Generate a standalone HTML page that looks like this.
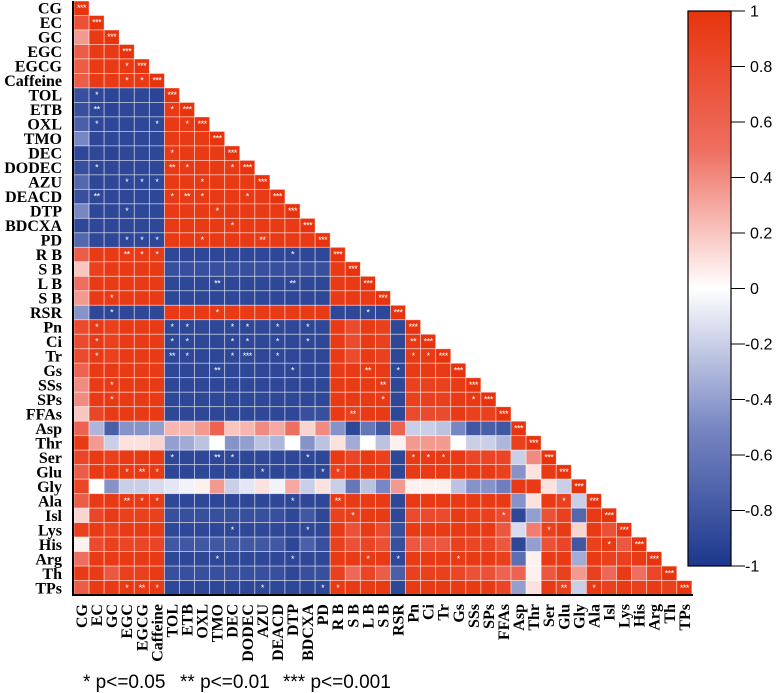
<!DOCTYPE html>
<html><head><meta charset="utf-8"><style>
html,body{margin:0;padding:0;background:#fff;}
svg{display:block;}
</style></head><body>
<svg id="chart" width="777" height="693" viewBox="0 0 777 693" xmlns="http://www.w3.org/2000/svg">
<defs>
<linearGradient id="cbar" x1="0" y1="0" x2="0" y2="1">
<stop offset="0" stop-color="rgb(232,52,14)"/>
<stop offset="0.25" stop-color="rgb(238,110,96)"/>
<stop offset="0.5" stop-color="rgb(255,255,255)"/>
<stop offset="0.75" stop-color="rgb(120,135,195)"/>
<stop offset="1" stop-color="rgb(28,55,140)"/>
</linearGradient>
</defs>
<g id="cells"></g>
<g id="stars"></g>
<g id="rowlabels"></g>
<g id="collabels"></g>
<line x1="73" y1="1" x2="73" y2="596" stroke="#000" stroke-width="2"/>
<line x1="72" y1="595" x2="693" y2="595" stroke="#000" stroke-width="2"/>
<g id="colorbar">
<rect x="688" y="11" width="43" height="555" fill="url(#cbar)" stroke="#000" stroke-width="1.2"/>
</g>
<g font-family="Liberation Sans, sans-serif" font-size="19" fill="#000">
<text x="83" y="688">* p&lt;=0.05</text>
<text x="180" y="688">** p&lt;=0.01</text>
<text x="283" y="688">*** p&lt;=0.001</text>
</g>
</svg>
<script>
const labels = ["CG","EC","GC","EGC","EGCG","Caffeine","TOL","ETB","OXL","TMO","DEC","DODEC","AZU","DEACD","DTP","BDCXA","PD","R B","S B","L B","S B","RSR","Pn","Ci","Tr","Gs","SSs","SPs","FFAs","Asp","Thr","Ser","Glu","Gly","Ala","Isl","Lys","His","Arg","Th","TPs"];
const colorbarTicks = [1,0.8,0.6,0.4,0.2,0,-0.2,-0.4,-0.6,-0.8,-1];
const colorbarTickLabels = ["1","0.8","0.6","0.4","0.2","0","-0.2","-0.4","-0.6","-0.8","-1"];
const corr = [
[1],
[.75,1],
[.35,.95,1],
[.65,.95,.95,1],
[.65,.95,.95,.95,1],
[.65,.95,.95,.95,.95,1],
[-.85,-.9,-.92,-.9,-.9,-.92,1],
[-.85,-.9,-.92,-.9,-.9,-.92,.95,1],
[-.75,-.9,-.9,-.9,-.9,-.9,.95,.95,1],
[-.5,-.9,-.9,-.9,-.9,-.9,.95,.95,.95,1],
[-.9,-.9,-.92,-.9,-.9,-.9,.95,.95,.95,.95,1],
[-.85,-.9,-.9,-.9,-.9,-.9,.95,.95,.95,.95,.95,1],
[-.7,-.9,-.9,-.9,-.9,-.9,.95,.95,.95,.95,.95,.95,1],
[-.85,-.9,-.9,-.9,-.9,-.9,.95,.95,.95,.95,.95,.95,.95,1],
[-.5,-.9,-.9,-.9,-.9,-.9,.95,.95,.95,.95,.95,.95,.95,.95,1],
[-.9,-.9,-.9,-.9,-.9,-.9,.95,.95,.95,.95,.95,.95,.95,.95,.95,1],
[-.7,-.9,-.9,-.9,-.9,-.9,.95,.95,.95,.95,.95,.95,.95,.95,.95,.95,1],
[.65,.95,.95,.95,.95,.95,-.9,-.9,-.9,-.9,-.9,-.9,-.9,-.9,-.9,-.9,-.9,1],
[.2,.9,.95,.95,.95,.95,-.85,-.85,-.85,-.85,-.85,-.85,-.85,-.85,-.85,-.85,-.85,.95,1],
[.5,.95,.95,.95,.95,.95,-.9,-.9,-.9,-.9,-.9,-.9,-.9,-.9,-.9,-.9,-.9,.95,.95,1],
[.35,.95,.95,.95,.95,.95,-.9,-.9,-.9,-.9,-.9,-.9,-.9,-.9,-.9,-.9,-.9,.95,.95,.95,1],
[-.45,-.9,-.9,-.9,-.9,-.9,.95,.95,.95,.95,.95,.95,.95,.95,.95,.95,.95,-.9,-.9,-.9,-.9,1],
[.8,.95,.9,.95,.95,.95,-.9,-.9,-.9,-.9,-.9,-.9,-.9,-.9,-.9,-.9,-.9,.95,.8,.95,.9,-.9,1],
[.8,.95,.9,.95,.95,.95,-.9,-.9,-.9,-.9,-.9,-.9,-.9,-.9,-.9,-.9,-.9,.95,.8,.95,.9,-.9,.95,1],
[.8,.95,.9,.95,.95,.95,-.9,-.9,-.9,-.9,-.9,-.9,-.9,-.9,-.9,-.9,-.9,.95,.8,.95,.9,-.9,.95,.95,1],
[.6,.95,.95,.95,.95,.95,-.9,-.9,-.9,-.9,-.9,-.9,-.9,-.9,-.9,-.9,-.9,.95,.95,.95,.95,-.9,.95,.95,.95,1],
[.4,.95,.95,.95,.95,.95,-.9,-.9,-.9,-.9,-.9,-.9,-.9,-.9,-.9,-.9,-.9,.95,.95,.95,.95,-.9,.9,.9,.9,.95,1],
[.4,.95,.95,.95,.95,.95,-.9,-.9,-.9,-.9,-.9,-.9,-.9,-.9,-.9,-.9,-.9,.95,.95,.95,.95,-.9,.9,.9,.9,.95,.95,1],
[.2,.85,.95,.95,.95,.95,-.9,-.9,-.9,-.9,-.9,-.9,-.9,-.9,-.9,-.85,-.85,.95,.9,.95,.95,-.9,.8,.8,.8,.95,.9,.9,1],
[.6,-.3,-.75,-.45,-.45,-.4,.25,.25,.35,.6,.2,.25,.4,.3,.5,.15,.4,-.45,-.9,-.6,-.8,.6,-.2,-.2,-.25,-.5,-.8,-.75,-.8,1],
[.95,.35,-.2,.1,.1,.15,-.4,-.35,-.25,0,-.45,-.4,-.25,-.3,0,-.45,-.25,.1,-.35,0,-.25,.05,.35,.35,.35,0,-.2,-.2,-.3,.9,1],
[.85,.95,.9,.95,.95,.95,-.9,-.9,-.9,-.9,-.9,-.9,-.9,-.9,-.9,-.9,-.9,.95,.85,.95,.9,-.9,.95,.95,.95,.95,.85,.85,.85,-.2,.4,1],
[.65,.95,.95,.95,.95,.95,-.9,-.9,-.9,-.9,-.9,-.9,-.9,-.9,-.9,-.9,-.9,.9,.95,.95,.95,-.9,.95,.95,.95,.95,.95,.95,.9,-.45,.1,.95,1],
[.85,0,-.45,-.2,-.2,-.15,-.1,-.05,.05,.35,-.2,-.1,.1,-.05,.3,-.2,.1,-.2,-.6,-.25,-.5,.35,.05,.05,.05,-.25,-.45,-.45,-.55,.95,.95,.1,-.2,1],
[.65,.95,.95,.95,.95,.95,-.9,-.9,-.9,-.9,-.9,-.9,-.9,-.9,-.9,-.9,-.9,.95,.95,.95,.95,-.9,.95,.95,.95,.95,.95,.95,.95,-.45,.1,.95,.9,-.2,1],
[.15,.85,.95,.9,.9,.9,-.85,-.85,-.85,-.85,-.85,-.85,-.85,-.85,-.9,-.8,-.9,.9,.9,.95,.95,-.9,.8,.8,.8,.95,.9,.9,.8,-.9,-.4,.75,.9,-.7,.95,1],
[.9,.95,.9,.95,.95,.95,-.9,-.9,-.9,-.9,-.9,-.9,-.9,-.9,-.9,-.9,-.9,.95,.75,.95,.8,-.85,.95,.95,.95,.95,.95,.95,.7,-.15,.45,.9,.95,.15,.95,.75,1],
[.05,.8,.9,.85,.85,.85,-.8,-.8,-.8,-.8,-.8,-.8,-.8,-.8,-.9,-.75,-.85,.9,.75,.85,.75,-.85,.7,.7,.7,.9,.85,.85,.7,-.9,-.4,.75,.85,-.8,.9,.95,.7,1],
[.5,.95,.95,.95,.95,.95,-.9,-.9,-.9,-.9,-.9,-.9,-.9,-.9,-.9,-.9,-.9,.95,.95,.95,.95,-.9,.95,.95,.95,.95,.95,.95,.9,-.65,.05,.95,.95,-.35,.95,.9,.9,.95,1],
[.95,.95,.7,.9,.9,.95,-.85,-.85,-.85,-.85,-.85,-.85,-.85,-.85,-.9,-.85,-.85,.9,.55,.85,.65,-.75,.9,.9,.9,.85,.75,.75,.6,.6,.05,.7,.9,.35,.9,.55,.95,.5,.85,1],
[.65,.95,.95,.95,.95,.95,-.9,-.9,-.9,-.9,-.9,-.9,-.9,-.9,-.9,-.9,-.9,.95,.95,.95,.95,-.9,.95,.95,.95,.95,.95,.95,.85,-.4,.1,.95,.9,-.2,.95,.9,.95,.9,.95,.9,1]
];
const sigRows = [4,5,5,6,7,8,8,11,12,12,12,13,14,16,16,16,7,8,10,11,11,11,12,13,13,13,13,14,15,16,16,17,17,17,17,19,19,20,21,21,21,22,22,22,22,22,22,22,23,23,23,23,23,23,23,23,24,24,24,24,24,24,24,24,25,25,25,25,26,26,27,27,27,28,31,31,31,31,31,31,31,32,32,32,32,32,32,34,34,34,34,34,34,35,35,36,36,36,37,38,38,38,38,38,40,40,40,40,40,40,40,40];
const sigCols = [3,3,4,1,1,1,5,1,3,4,5,1,3,3,4,5,6,7,6,6,7,10,8,6,7,8,11,9,10,8,12,3,4,5,14,9,14,2,2,9,19,1,6,7,10,11,13,15,1,6,7,10,11,13,15,22,1,6,7,10,11,13,22,23,9,14,19,21,2,20,2,20,26,18,6,9,10,15,22,23,24,3,4,5,12,16,17,3,4,5,14,17,32,18,28,10,15,31,35,9,14,19,21,25,3,4,5,12,16,17,32,34];
const sigLevels = [1,1,1,1,2,1,1,1,1,1,1,2,1,1,1,1,1,1,1,2,1,1,1,1,2,1,1,1,1,1,2,2,1,1,1,2,2,1,1,1,1,1,1,1,1,1,1,1,1,1,1,1,1,1,1,2,1,2,1,1,3,1,1,1,2,1,2,1,1,2,1,1,1,2,1,2,1,1,1,1,1,1,2,1,1,1,1,2,1,1,1,2,1,1,1,1,1,1,1,1,1,1,1,1,1,2,1,1,1,1,2,1];

const NS='http://www.w3.org/2000/svg';
const X0=74, CW=15.07, Y0=1, RH=14.49;
const xScale = c => X0 + c*CW;
const yScale = r => Y0 + r*RH;
const cbTop=11, cbBot=566;
const cbScale = v => cbTop + (1-v)/2*(cbBot-cbTop);
function color(v){
  const lerp=(a,b,t)=>Math.round(a+(b-a)*t);
  if(v>=0){
    let t=Math.min(1,v);
    if(t<0.5){const u=t/0.5;return `rgb(${lerp(255,238,u)},${lerp(255,110,u)},${lerp(255,96,u)})`;}
    const u=(t-0.5)/0.5;return `rgb(${lerp(238,232,u)},${lerp(110,52,u)},${lerp(96,14,u)})`;
  } else {
    let t=Math.min(1,-v);
    if(t<0.5){const u=t/0.5;return `rgb(${lerp(255,120,u)},${lerp(255,135,u)},${lerp(255,195,u)})`;}
    const u=(t-0.5)/0.5;return `rgb(${lerp(120,28,u)},${lerp(135,55,u)},${lerp(195,140,u)})`;
  }
}
const cellsG=document.getElementById('cells');
corr.forEach((row,r)=>{
  row.forEach((v,c)=>{
    const rect=document.createElementNS(NS,'rect');
    
    
    rect.setAttribute('x',xScale(c));
    rect.setAttribute('y',yScale(r));
    rect.setAttribute('width',CW);
    rect.setAttribute('height',RH);
    rect.setAttribute('fill',color(v));
    rect.setAttribute('stroke','rgba(255,255,255,0.55)');
    rect.setAttribute('stroke-width','0.8');
    cellsG.appendChild(rect);
  });
});
const starsG=document.getElementById('stars');
function addStar(r,c,n){
  const t=document.createElementNS(NS,'text');
  
  
  t.setAttribute('x',xScale(c)+CW/2);
  t.setAttribute('y',yScale(r)+RH/2+3);
  t.setAttribute('text-anchor','middle');
  t.setAttribute('font-family','Liberation Sans, sans-serif');
  t.setAttribute('font-size','9');
  t.setAttribute('fill','#fff');
  t.setAttribute('letter-spacing','-0.5');
  t.textContent='*'.repeat(n);
  starsG.appendChild(t);
}
for(let i=0;i<labels.length;i++) addStar(i,i,3);
for(let k=0;k<sigRows.length;k++) addStar(sigRows[k],sigCols[k],sigLevels[k]);

const rl=document.getElementById('rowlabels');
const cl=document.getElementById('collabels');
labels.forEach((lab,i)=>{
  const t=document.createElementNS(NS,'text');
  
  
  t.setAttribute('x',62);
  t.setAttribute('y',yScale(i)+RH/2+5.5);
  t.setAttribute('text-anchor','end');
  t.setAttribute('font-family','Liberation Serif, serif');
  t.setAttribute('font-weight','bold');
  t.setAttribute('font-size','16');
  t.textContent=lab;
  rl.appendChild(t);
  const u=document.createElementNS(NS,'text');
  
  
  const cx=xScale(i)+CW/2+5.5;
  u.setAttribute('x',cx);
  u.setAttribute('y',604);
  u.setAttribute('transform',`rotate(-90 ${cx} 604)`);
  u.setAttribute('text-anchor','end');
  u.setAttribute('font-family','Liberation Serif, serif');
  u.setAttribute('font-weight','bold');
  u.setAttribute('font-size','16');
  u.textContent=lab;
  cl.appendChild(u);
});
const cb=document.getElementById('colorbar');
colorbarTicks.forEach((v,i)=>{
  const y=cbScale(v);
  const l=document.createElementNS(NS,'line');
  
  
  l.setAttribute('x1',731);l.setAttribute('x2',745);
  l.setAttribute('y1',y);l.setAttribute('y2',y);
  l.setAttribute('stroke','#000');l.setAttribute('stroke-width','1');
  cb.appendChild(l);
  const t=document.createElementNS(NS,'text');
  
  
  t.setAttribute('x',v<0?745:750);
  t.setAttribute('y',y+5.5);
  t.setAttribute('font-family','Liberation Sans, sans-serif');
  t.setAttribute('font-size','16');
  t.textContent=colorbarTickLabels[i];
  cb.appendChild(t);
});
</script>
</body></html>
